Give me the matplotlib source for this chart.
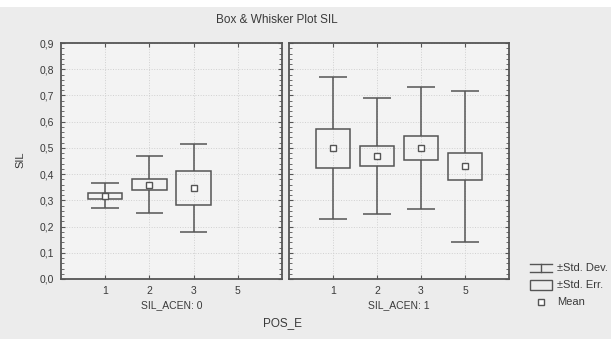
import numpy as np
import matplotlib.pyplot as plt
from matplotlib.ticker import MultipleLocator, FuncFormatter
from matplotlib.lines import Line2D
from matplotlib.patches import Rectangle

plt.rcParams['font.family'] = ['Liberation Sans', 'DejaVu Sans']

# Data
categories = ['1', '2', '3', '5']
mean_0 = [0.317, 0.360, 0.348, np.nan]
se_0 = [0.010, 0.022, 0.064, np.nan]
sd_0 = [0.048, 0.110, 0.168, np.nan]
mean_1 = [0.499, 0.470, 0.499, 0.430]
se_1 = [0.075, 0.039, 0.045, 0.052]
sd_1 = [0.271, 0.222, 0.233, 0.288]
panel_labels = ['SIL_ACEN: 0', 'SIL_ACEN: 1']

edge = '#555555'
txt = '#3a3a3a'
fig = plt.figure(figsize=(6.11, 3.39), dpi=100, facecolor='#ececec')
fig.patches.append(Rectangle((0, 0.978), 1, 0.022, transform=fig.transFigure,
                             facecolor='white', edgecolor='none'))

ax0 = fig.add_axes([0.0998, 0.177, 0.3617, 0.696])
ax1 = fig.add_axes([0.473, 0.177, 0.360, 0.696])

def draw_panel(ax, means, ses, sds, label, show_y):
    x = np.arange(1, len(categories) + 1)
    ax.set_facecolor('#f3f3f3')
    for xi, m, se, sd in zip(x, means, ses, sds):
        if np.isnan(m):
            continue
        ax.add_patch(Rectangle((xi - 0.39, m - se), 0.78, 2 * se,
                               facecolor='none', edgecolor=edge, lw=1.1, zorder=3))
        ax.vlines(xi, m + se, m + sd, color=edge, lw=1.1, zorder=3)
        ax.vlines(xi, m - sd, m - se, color=edge, lw=1.1, zorder=3)
        ax.hlines([m - sd, m + sd], xi - 0.31, xi + 0.31, color=edge, lw=1.1, zorder=3)
        ax.plot(xi, m, marker='s', ms=4, mfc='white', mec=edge, mew=1.0, zorder=4)
    ax.set_xlim(0, 5)
    ax.set_ylim(0, 0.9)
    ax.set_xticks(x)
    ax.set_xticklabels(categories, fontsize=7.5, color=txt)
    ax.yaxis.set_major_locator(MultipleLocator(0.1))
    ax.yaxis.set_minor_locator(MultipleLocator(0.02))
    ax.yaxis.set_major_formatter(FuncFormatter(lambda v, p: f'{v:.1f}'.replace('.', ',')))
    ax.tick_params(axis='y', which='both', direction='in', left=True, right=True,
                   labelleft=show_y, labelsize=7.5, labelcolor=txt, color=edge, pad=5)
    ax.tick_params(axis='y', which='major', length=3, width=0.8)
    ax.tick_params(axis='y', which='minor', length=2, width=0.6)
    ax.tick_params(axis='x', direction='in', top=True, length=3, color=edge, pad=5)
    ax.grid(True, which='major', color='#d0d0d0', ls=':', lw=0.7)
    ax.set_axisbelow(True)
    for s in ax.spines.values():
        s.set_color(edge)
        s.set_linewidth(1.3)
    ax.set_xlabel(label, fontsize=7.5, color=txt, labelpad=3)

draw_panel(ax0, mean_0, se_0, sd_0, panel_labels[0], True)
draw_panel(ax1, mean_1, se_1, sd_1, panel_labels[1], False)

fig.text(0.453, 0.942, 'Box & Whisker Plot SIL', ha='center', va='center',
         fontsize=8.5, color=txt)
fig.text(0.034, 0.528, 'SIL', rotation=90, ha='center', va='center',
         fontsize=8, color=txt)
fig.text(0.463, 0.047, 'POS_E', ha='center', va='center', fontsize=8.5, color=txt)

# Legend drawn by hand at right
lx0, lx1 = 0.868, 0.903
y_dev, y_err, y_mean = 1 - 268 / 339, 1 - 285 / 339, 1 - 302 / 339
fig.lines.append(Line2D([lx0, lx1], [y_dev + 0.013, y_dev + 0.013], color=edge, lw=1, transform=fig.transFigure))
fig.lines.append(Line2D([lx0, lx1], [y_dev - 0.013, y_dev - 0.013], color=edge, lw=1, transform=fig.transFigure))
fig.lines.append(Line2D([(lx0 + lx1) / 2] * 2, [y_dev - 0.013, y_dev + 0.013], color=edge, lw=1, transform=fig.transFigure))
fig.patches.append(Rectangle((lx0, y_err - 0.015), lx1 - lx0, 0.030, transform=fig.transFigure,
                             facecolor='none', edgecolor=edge, lw=1))
fig.lines.append(Line2D([(lx0 + lx1) / 2], [y_mean], marker='s', ms=4, mfc='white', mec=edge,
                        mew=1.0, transform=fig.transFigure))
tx = 0.912
fig.text(tx, y_dev, '±Std. Dev.', va='center', fontsize=8, color=txt)
fig.text(tx, y_err, '±Std. Err.', va='center', fontsize=8, color=txt)
fig.text(tx, y_mean, 'Mean', va='center', fontsize=8, color=txt)

fig.savefig('out.png', dpi=100, facecolor=fig.get_facecolor())
